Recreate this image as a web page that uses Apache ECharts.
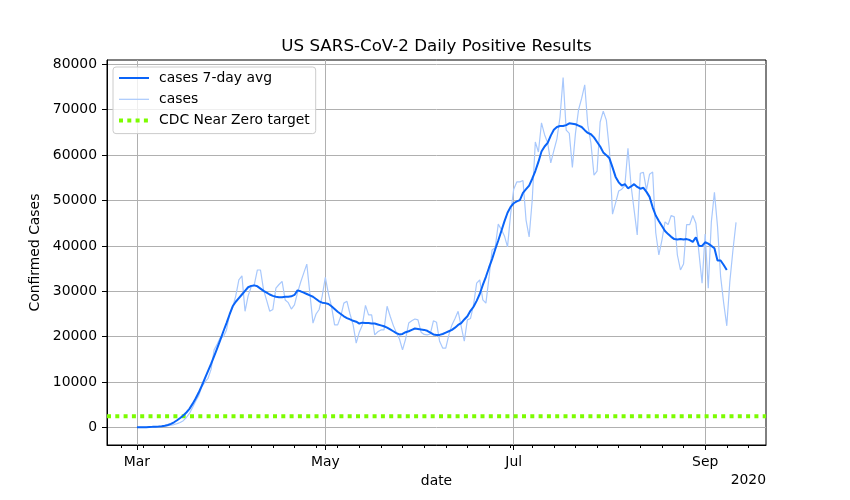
<!DOCTYPE html>
<html>
<head>
<meta charset="utf-8">
<title>US SARS-CoV-2 Daily Positive Results</title>
<script src="https://cdn.jsdelivr.net/npm/echarts@6.0.0/dist/echarts.min.js"></script>
<style>
html, body { margin: 0; padding: 0; background: #fff; }
#chart { width: 850px; height: 500px; }
</style>
</head>
<body>
<div id="chart"></div>
<script>
// x values are day offsets, day 0 = 2020-03-01
const cases = [
  10, 20, 30, 40, 60, 90, 120, 160, 220, 300,
  420, 500, 650, 850, 1100, 1500, 2200, 3100, 4400, 5800,
  7000, 9000, 10000, 10800, 12800, 17100, 18400, 19800, 20000, 21500,
  25000, 26500, 29000, 32500, 33400, 25600, 29000, 31000, 31500, 34700,
  34700, 30300, 28000, 25600, 26000, 30700, 31500, 32200, 28100, 27500,
  26100, 27000, 29700, 32000, 34000, 36000, 29500, 23000, 25000, 26000,
  29000, 33100, 29500, 26700, 22600, 22600, 24500, 27400, 27800, 25000,
  22600, 18600, 21000, 22600, 26900, 24800, 24800, 20400, 21100, 21500,
  21500, 26700, 24500, 22500, 20900, 19500, 17100, 19500, 23000, 23500,
  23900, 23700, 21000, 20500, 20400, 20600, 23500, 23200, 19000, 17500,
  17500, 20400, 22600, 24000, 25600, 22300, 19000, 23700, 24000, 27000,
  31800, 32500, 28100, 27400, 33000, 39100, 39600, 44800, 43600, 42200,
  39800, 47000, 52500, 54100, 54100, 54400, 45700, 42000, 50100, 62900,
  60700, 67100, 64500, 62700, 58300, 61000, 63600, 68400, 77100, 65500,
  64800, 57300, 64800, 70000, 72500, 75500, 66600, 62700, 55600, 56500,
  67300, 69700, 67700, 61100, 47000, 49500, 52100, 52500, 53300, 61500,
  53300, 47900, 42400, 56000, 56200, 52300, 55800, 56300, 42900, 38000,
  41300, 45300, 44700, 46700, 46400, 38000, 34700, 36000, 44700, 44700,
  46700, 45000, 38400, 31800, 42600, 30700, 45300, 51800, 44300, 33300,
  27400, 22400, 32200, 39100, 45200
];
const casesAvg = [
  30, 40, 60, 80, 110, 140, 180, 230, 300, 400,
  550, 800, 1150, 1600, 2100, 2650, 3300, 4100, 5200, 6400,
  7700, 9200, 10800, 12400, 14000, 15700, 17500, 19300, 21200, 23000,
  24900, 26700, 27700, 28500, 29300, 30100, 30900, 31200, 31300, 31100,
  30600, 30100, 29700, 29300, 29000, 28800, 28700, 28700, 28800, 28800,
  28900, 29200, 30200, 30000, 29700, 29400, 29100, 28800, 28300, 27800,
  27500, 27400, 27200, 26700, 26100, 25500, 25000, 24500, 24100, 23800,
  23500, 23300, 22900, 23100, 23000, 23000, 22900, 22900, 22700, 22500,
  22300, 22000, 21600, 21200, 20800, 20500, 20600, 21000, 21200, 21500,
  21800, 21700, 21600, 21500, 21300, 20900, 20500, 20400, 20400, 20600,
  20900, 21200, 21500, 22000, 22600, 23000, 23800, 24500, 25700, 26600,
  27900, 29400, 31400, 33200, 35200, 37100, 39200, 41200, 43300, 45400,
  47300, 48600, 49400, 49800, 50100, 51700, 52500, 53300, 54800, 56500,
  58500, 60800, 61900, 62700, 64300, 65600, 66200, 66400, 66400, 66600,
  67000, 66900, 66800, 66500, 66200, 65500, 64900, 64600, 63900, 62900,
  61900, 60600, 60000, 59300, 57300, 55200, 54000, 53300, 53600, 52700,
  53100, 53600, 53000, 52600, 52800, 51900, 50800, 48500, 46700, 45500,
  44400, 43300, 42600, 42000, 41500, 41400, 41500, 41400, 41500, 41300,
  40900, 41900, 40000, 40000, 40800, 40500, 40000, 39500, 36800, 36800,
  35800, 34700
];
const cdcTarget = 2500;
const monthTicks = [0, 61, 122, 184];
const monthLabels = ['Mar', 'May', 'Jul', 'Sep'];
const weekTicks = [-5, 2, 9, 16, 23, 30, 37, 44, 51, 58, 65, 72, 79, 86, 93,
  100, 107, 114, 121, 128, 135, 142, 149, 156, 163, 170, 177, 184, 191, 198];
const yTicks = [0, 10000, 20000, 30000, 40000, 50000, 60000, 70000, 80000];

const xMin = -9.7, xMax = 203.7;
const yMin = -3855, yMax = 80955;
const font = 'DejaVu Sans';

const avgStyle = {color: '#0a64f8', width: 2};
const casesStyle = {color: '#a8c8fc', width: 1.2};
const cdcStyle = {color: '#7cfc00', width: 4, type: [4, 4.3]};

const chart = echarts.init(document.getElementById('chart'), null, {renderer: 'canvas'});

chart.setOption({
  animation: false,
  backgroundColor: '#fff',
  textStyle: {fontFamily: font},
  grid: {left: 107, right: 84, top: 60, bottom: 55, show: true, borderColor: '#000', borderWidth: 1, containLabel: false},
  legend: {
    orient: 'vertical', left: 113, top: 67,
    itemWidth: 30, itemHeight: 14, itemGap: 7.3,
    padding: [4, 6, 6, 4],
    backgroundColor: 'rgba(255,255,255,0.8)',
    borderColor: '#cccccc', borderWidth: 1, borderRadius: 3,
    itemStyle: {opacity: 0},
    textStyle: {fontFamily: font, fontSize: 13.9, color: '#000', padding: [0, 0, 0, 5]},
    data: [
      {name: 'cases 7-day avg', lineStyle: avgStyle},
      {name: 'cases', lineStyle: casesStyle},
      {name: 'CDC Near Zero target', lineStyle: cdcStyle}
    ]
  },
  graphic: [
    {type: 'text', x: 436.5, y: 47, z: 100, style: {text: 'US SARS-CoV-2 Daily Positive Results', fontFamily: font, fontSize: 16.7, fill: '#000', textAlign: 'center', textVerticalAlign: 'middle'}},
    {type: 'text', x: 766, y: 480, z: 100, style: {text: '2020', fontFamily: font, fontSize: 13.9, fill: '#000', textAlign: 'right', textVerticalAlign: 'middle'}}
  ],
  xAxis: [
    {
      type: 'value', min: xMin, max: xMax, position: 'bottom',
      name: 'date', nameLocation: 'middle', nameGap: 29,
      nameTextStyle: {fontFamily: font, fontSize: 13.9, color: '#000'},
      axisLine: {show: true, onZero: false, lineStyle: {color: '#000', width: 1}},
      axisTick: {show: true, length: 5, customValues: monthTicks, lineStyle: {color: '#000', width: 1}},
      axisLabel: {show: true, margin: 10, customValues: monthTicks, fontFamily: font, fontSize: 13.9, color: '#000',
        formatter: v => monthLabels[monthTicks.indexOf(v)] || ''},
      splitLine: {show: true, lineStyle: {color: '#b0b0b0', width: 1}}
    },
    {
      type: 'value', min: xMin, max: xMax, position: 'bottom',
      axisLine: {show: false, onZero: false},
      axisTick: {show: true, length: 3, customValues: weekTicks, lineStyle: {color: '#000', width: 1}},
      axisLabel: {show: false},
      splitLine: {show: false}
    }
  ],
  yAxis: {
    type: 'value', min: yMin, max: yMax, splitNumber: 8,
    name: 'Confirmed Cases', nameLocation: 'middle', nameGap: 59,
    nameTextStyle: {fontFamily: font, fontSize: 13.9, color: '#000'},
    axisLine: {show: true, onZero: false, lineStyle: {color: '#000', width: 1}},
    axisTick: {show: true, length: 5, customValues: yTicks, lineStyle: {color: '#000', width: 1}},
    axisLabel: {show: true, margin: 10, customValues: yTicks, fontFamily: font, fontSize: 13.9, color: '#000',
      formatter: v => String(v)},
    splitLine: {show: true, lineStyle: {color: '#b0b0b0', width: 1}}
  },
  series: [
    {
      name: 'cases 7-day avg', type: 'line', xAxisIndex: 0, z: 4,
      data: casesAvg.map((v, i) => [i, v]),
      showSymbol: false, symbol: 'none',
      color: avgStyle.color,
      lineStyle: avgStyle
    },
    {
      name: 'cases', type: 'line', xAxisIndex: 0, z: 3,
      data: cases.map((v, i) => [i, v]),
      showSymbol: false, symbol: 'none',
      color: casesStyle.color,
      lineStyle: casesStyle
    },
    {
      name: 'CDC Near Zero target', type: 'line', xAxisIndex: 0, z: 2,
      data: [[xMin, cdcTarget], [xMax, cdcTarget]],
      showSymbol: false, symbol: 'none',
      color: cdcStyle.color,
      lineStyle: cdcStyle
    }
  ]
});
</script>
</body>
</html>
